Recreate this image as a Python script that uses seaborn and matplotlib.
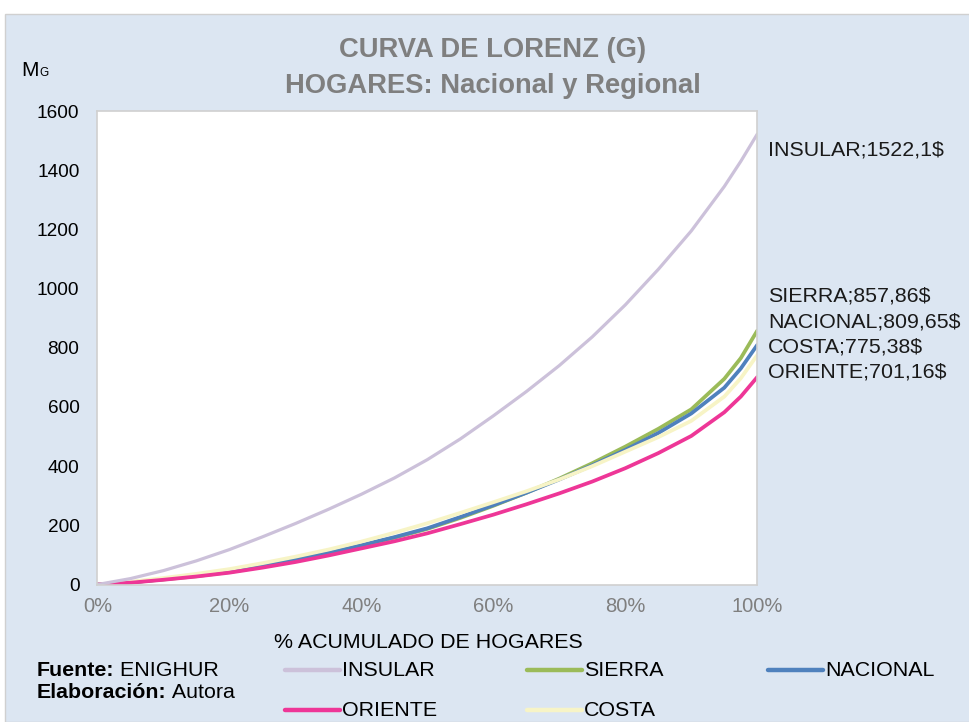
import matplotlib
matplotlib.use("Agg")
import matplotlib.pyplot as plt
import seaborn as sns
import pandas as pd
from matplotlib.patches import Rectangle
from matplotlib.lines import Line2D
from matplotlib.ticker import PercentFormatter

# % acumulado de hogares
p = [0, 0.05, 0.1, 0.15, 0.2, 0.25, 0.3, 0.35, 0.4, 0.45, 0.5, 0.55,
     0.6, 0.65, 0.7, 0.75, 0.8, 0.85, 0.9, 0.95, 0.975, 1.0]

# curva de Lorenz generalizada
insular = [0, 20, 47, 80, 118, 161, 206, 254, 305, 360, 422, 492,
           570, 652, 740, 837, 945, 1065, 1195, 1345, 1430, 1522.1]
sierra = [0, 7, 17, 28, 42, 60, 82, 105, 131, 158, 188, 225,
          266, 310, 358, 410, 466, 526, 592, 695, 765, 857.86]
nacional = [0, 7, 18, 30, 44, 62, 84, 107, 133, 160, 190, 228,
            268, 310, 355, 403, 455, 512, 578, 665, 730, 809.65]
costa = [0, 9, 22, 36, 52, 72, 94, 118, 145, 175, 207, 242,
         278, 315, 355, 400, 449, 498, 553, 635, 697, 775.38]
oriente = [0, 6, 16, 27, 40, 57, 76, 98, 122, 146, 173, 204,
           236, 271, 308, 348, 393, 444, 502, 582, 635, 701.16]

regiones = ["INSULAR", "SIERRA", "NACIONAL", "COSTA", "ORIENTE"]
valores = [insular, sierra, nacional, costa, oriente]
colores = {"INSULAR": "#CCC1DA", "SIERRA": "#9BBB59", "NACIONAL": "#4F81BD",
           "COSTA": "#F7F4C6", "ORIENTE": "#EE3697"}

df = pd.concat([pd.DataFrame({"p": p, "valor": v, "region": r})
                for r, v in zip(regiones, valores)], ignore_index=True)

sns.set_style("white")
plt.rcParams["font.family"] = ["Liberation Sans", "DejaVu Sans"]

W, H = 970, 722
fig = plt.figure(figsize=(W / 100, H / 100), dpi=100, facecolor="white")
fig.add_artist(Rectangle((5 / W, 0), 1, (H - 14) / H, transform=fig.transFigure,
                         facecolor="#DCE6F2", edgecolor="#D0D0D0", lw=1, zorder=0))

ax = fig.add_axes([97.5 / W, 137.5 / H, 659.8 / W, 473.5 / H])
ax.set_facecolor("white")

# orden de dibujo (el ultimo queda encima)
for r in ["SIERRA", "NACIONAL", "COSTA", "ORIENTE", "INSULAR"]:
    sub = df[df["region"] == r]
    sns.lineplot(data=sub, x="p", y="valor", ax=ax, color=colores[r],
                 lw=2.3 if r == "INSULAR" else 2.7, legend=False)

ax.set_xlim(0, 1)
ax.set_ylim(0, 1600)
ax.set_yticks(range(0, 1601, 200))
ax.set_xticks([0, 0.2, 0.4, 0.6, 0.8, 1.0])
ax.xaxis.set_major_formatter(PercentFormatter(1.0, decimals=0))
ax.tick_params(axis="y", length=0, pad=13, labelsize=13.7, labelcolor="#000000")
ax.tick_params(axis="x", length=0, pad=9, labelsize=14.5, labelcolor="#7F7F7F")
ax.set_xlabel("")
ax.set_ylabel("")
for s in ax.spines.values():
    s.set_color("#D0D0D0")
    s.set_linewidth(1.2)

# titulo
fig.text(493 / W, 1 - 50 / H, "CURVA DE LORENZ (G)", ha="center", va="center",
         fontsize=19.7, fontweight="bold", color="#7F7F7F")
fig.text(493 / W, 1 - 86 / H, "HOGARES: Nacional y Regional", ha="center", va="center",
         fontsize=19.7, fontweight="bold", color="#7F7F7F")

# eje y
fig.text(21 / W, 1 - 71 / H, "M", ha="left", va="center", fontsize=15, color="#000000")
fig.text(39 / W, 1 - 73 / H, "G", ha="left", va="center", fontsize=8.5, color="#000000")
fig.text(428 / W, 1 - 643 / H, "% ACUMULADO DE HOGARES", ha="center", va="center",
         fontsize=15.4, color="#000000")

# etiquetas de datos
finales = dict(zip(regiones, [v[-1] for v in valores]))
etiq_y = {"INSULAR": 150, "SIERRA": 296, "NACIONAL": 322, "COSTA": 347, "ORIENTE": 372}
for r in regiones:
    txt = f"{r};{finales[r]:g}$".replace(".", ",")
    fig.text(768 / W, 1 - etiq_y[r] / H, txt, ha="left", va="center",
             fontsize=15.4, color="#1A1A1A")

# fuente
t1 = fig.text(37 / W, 1 - 670 / H, "Fuente:", ha="left", va="center",
              fontsize=15.4, fontweight="bold", color="#000000")
ax.annotate(" ENIGHUR", xy=(1, 0), xycoords=t1, ha="left", va="bottom",
            fontsize=15.4, color="#000000", annotation_clip=False)
t2 = fig.text(37 / W, 1 - 693 / H, "Elaboración:", ha="left", va="center",
              fontsize=15.4, fontweight="bold", color="#000000")
ax.annotate(" Autora", xy=(1, 0), xycoords=t2, ha="left", va="bottom",
            fontsize=15.4, color="#000000", annotation_clip=False)

# leyenda
leyenda = {"INSULAR": (285, 670), "SIERRA": (527, 670), "NACIONAL": (768, 670),
           "ORIENTE": (285, 710), "COSTA": (527, 710)}
for r, (lx, ly) in leyenda.items():
    fig.add_artist(Line2D([lx / W, (lx + 55) / W], [1 - ly / H, 1 - ly / H],
                          transform=fig.transFigure, color=colores[r], lw=3.2))
    fig.text((lx + 57) / W, 1 - ly / H, r, ha="left", va="center",
             fontsize=15.4, color="#000000")

fig.savefig("out.png", dpi=100)
